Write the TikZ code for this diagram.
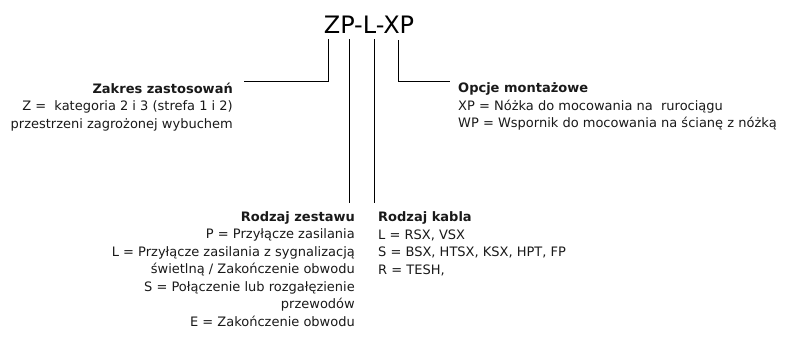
\documentclass[tikz,border=0pt]{standalone}
\usepackage{fontspec}
\setmainfont{DejaVu Sans}
\tikzset{
  legend/.style={font=\fontsize{13}{17.5}\selectfont, inner sep=0pt, text=black!90},
  code/.style={font=\fontsize{24}{26}\selectfont, inner sep=0pt},
  lead/.style={line width=0.9pt}
}
\begin{document}
\begin{tikzpicture}[x=1pt,y=-1pt]
\useasboundingbox (0,0) rectangle (787,338);
\node[code, anchor=base] (code) at (369,33) {ZP-L-XP};
% ends of the leaders under the code
\coordinate (zTop) at (328,39);
\coordinate (pTop) at (349,39);
\coordinate (lTop) at (374,39);
\coordinate (xTop) at (398,40);
\coordinate (zEnd) at (244,81);
\coordinate (xEnd) at (450,81);
\coordinate (pEnd) at (349,203);
\coordinate (lEnd) at (374,203);
\node[legend, align=right, anchor=north east] (zakres) at (233,82.5)
  {\textbf{Zakres zastosowań}\\
   Z =\ \ kategoria 2 i 3 (strefa 1 i 2)\\
   przestrzeni zagrożonej wybuchem};
\node[legend, align=left, anchor=north west] (opcje) at (458,82.5)
  {\textbf{Opcje montażowe}\\
   XP = Nóżka do mocowania na\ \ rurociągu\\
   WP = Wspornik do mocowania na ścianę z nóżką};
\node[legend, align=right, anchor=north east] (zestaw) at (355,211)
  {\textbf{Rodzaj zestawu}\\
   P = Przyłącze zasilania\\
   L = Przyłącze zasilania z sygnalizacją\\
   świetlną / Zakończenie obwodu\\
   S = Połączenie lub rozgałęzienie\\
   przewodów\\
   E = Zakończenie obwodu};
\node[legend, align=left, anchor=north west] (kabel) at (378,211.5)
  {\textbf{Rodzaj kabla}\\
   L = RSX, VSX\\
   S = BSX, HTSX, KSX, HPT, FP\\
   R = TESH,};
\draw[lead] (zTop) |- (zEnd);
\draw[lead] (pTop) -- (pEnd);
\draw[lead] (lTop) -- (lEnd);
\draw[lead] (xTop) |- (xEnd);
\end{tikzpicture}
\end{document}
